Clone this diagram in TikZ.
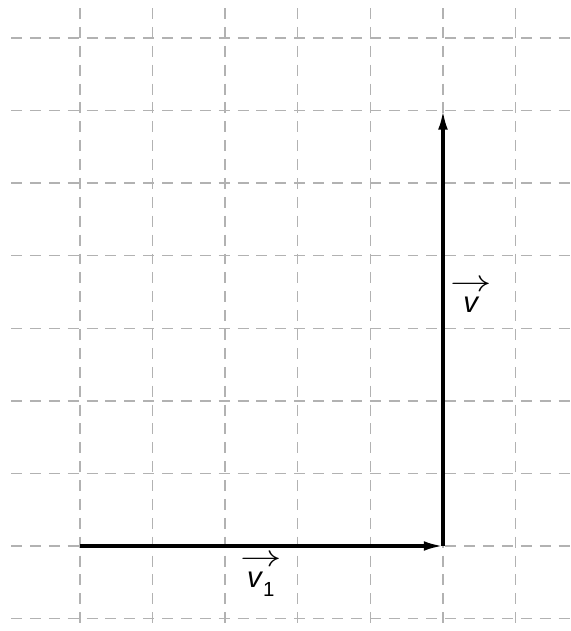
\documentclass[tikz,border=0pt]{standalone}
\usepackage{amsmath}
\usepackage{fontspec}
\setmainfont{Liberation Sans}
\usetikzlibrary{arrows.meta}
\definecolor{GridGray}{HTML}{B2B2B2}
\newcommand{\vecbar}{\scalebox{1.35}[1]{$\rightarrow$}}

\begin{document}
\begin{tikzpicture}[
  gridline/.style={GridGray,line width=0.55pt,dash pattern=on 4.3pt off 3.1pt},
  vec/.style={line width=1.2pt,-{Latex[length=7.5pt,width=3.8pt]}},
  lbl/.style={font=\fontsize{11.5}{13}\selectfont,inner sep=1pt,align=center}
]
\useasboundingbox (-1.102,-1.171) rectangle (6.763,7.521);
% grid
\foreach \x in {0,...,6}
  \draw[gridline] (\x,7.41) -- (\x,-1.25);
\foreach \y in {-1,...,7}
  \draw[gridline] (-0.95,\y) -- (6.85,\y);
% vectors
\coordinate (O) at (0,0);
\coordinate (A) at (5,0);
\coordinate (B) at (5,6);
\draw[vec] (O) -- (A);
\draw[vec] (A) -- (B);
\node[lbl] (v) at (5.39,3.44) {\vecbar\\[-4.5pt]\textit{v}};
\node[lbl] (v1) at (2.49,-0.41) {\vecbar\\[-4.5pt]\textit{v}\raisebox{-3.5pt}{\footnotesize 1}};
\end{tikzpicture}
\end{document}
